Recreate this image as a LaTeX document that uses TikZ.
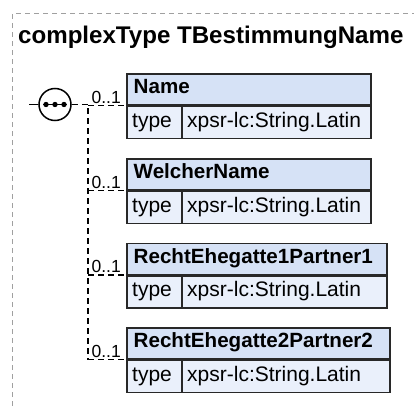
\documentclass[tikz,border=0pt]{standalone}
\usepackage{fontspec}
\setmainfont{Liberation Sans}
\definecolor{hdrfill}{RGB}{214,226,246}
\definecolor{typfill}{RGB}{234,240,251}
\definecolor{boxline}{RGB}{40,40,40}
\definecolor{framegray}{RGB}{160,160,160}
\tikzset{
  frameline/.style={draw=framegray, line width=1pt, dash pattern=on 5pt off 4pt},
  conn/.style={draw=black, line width=1.4pt, dash pattern=on 6pt off 4pt},
  hdr/.style={rectangle, draw=boxline, fill=hdrfill, line width=1.6pt, minimum height=31pt, inner sep=0pt, anchor=north west},
  typ/.style={rectangle, draw=boxline, fill=typfill, line width=1.6pt, minimum height=32pt, inner sep=0pt, anchor=north west},
  hdrtext/.style={anchor=base west, inner sep=0pt, font=\bfseries\fontsize{20.6}{22}\selectfont},
  typtext/.style={anchor=base west, inner sep=0pt, font=\fontsize{21}{23}\selectfont},
  multlab/.style={anchor=base east, inner sep=0pt, font=\fontsize{17.5}{19}\selectfont},
  seqnode/.style={circle, draw=black, fill=white, line width=1.5pt, minimum size=32pt, inner sep=0pt},
}
\begin{document}
\begin{tikzpicture}[x=1pt, y=-1pt]
\useasboundingbox (0,0) rectangle (414,406);
% outer frame
\draw[frameline] (12,406) -- (12,14) -- (414,14);
% title
\node[anchor=base west, inner sep=0pt, font=\bfseries\fontsize{24.1}{26}\selectfont] (title) at (18,44) {complexType TBestimmungName};
% boxes
\foreach \i/\top/\w/\nm in {1/73/244/Name, 2/158/244/WelcherName, 3/242.5/260/RechtEhegatte1Partner1, 4/327/263/RechtEhegatte2Partner2} {
  \node[hdr, minimum width=\w pt] (h\i) at (126,\top) {};
  \node[typ, minimum width=\w pt] (r\i) at (h\i.south west) {};
  \draw[draw=boxline, line width=1.6pt] ([xshift=56pt]r\i.north west) -- ([xshift=56pt]r\i.south west);
  \node[hdrtext] (n\i) at ([xshift=7.5pt, yshift=-20.6pt]h\i.north west) {\nm};
  \node[typtext] (k\i) at ([xshift=6pt, yshift=-21.6pt]r\i.north west) {type};
  \node[typtext] (v\i) at ([xshift=61pt, yshift=-21.6pt]r\i.north west) {xpsr-lc:String.Latin};
  \node[multlab] (m\i) at ([xshift=-5pt, yshift=2.5pt]h\i.south west) {0..1};
}
% sequence compositor
\node[seqnode] (seq) at (55,104.5) {};
\draw[line width=1.5pt] ([xshift=-12pt]seq.center) -- ([xshift=12pt]seq.center);
\foreach \dx in {-9,0,9} \fill ([xshift=\dx pt]seq.center) circle (2.7pt);
\coordinate (in) at (29,104.5);
\draw[conn, dash pattern=on 9pt off 9pt] (in) -- (seq.west);
% connectors
\coordinate (j1) at (88,104.5);
\coordinate (j4) at (88,0 |- h4.south west);
\draw[conn] (seq.east) -- (j1) -- (j4);
\foreach \i in {1,2,3,4} {
  \coordinate (b\i) at (88,0 |- h\i.south west);
  \draw[conn] (b\i) -- (h\i.south west);
}
\end{tikzpicture}
\end{document}
